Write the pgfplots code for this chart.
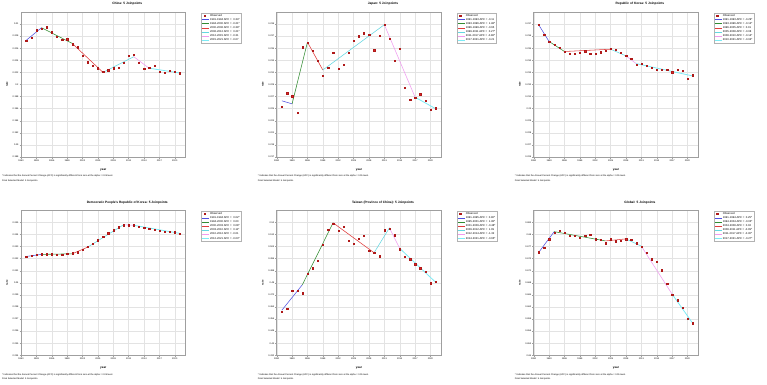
\documentclass[border=0pt]{standalone}
\usepackage{pgfplots}
\pgfplotsset{compat=1.18}
\usepackage{fontspec}
\setmainfont{Liberation Sans}

\definecolor{obsdark}{RGB}{175,25,25}
\definecolor{obsred}{RGB}{220,40,40}
\definecolor{segA}{RGB}{80,80,225}
\definecolor{segB}{RGB}{50,140,50}
\definecolor{segC}{RGB}{225,60,60}
\definecolor{segD}{RGB}{100,215,225}
\definecolor{segE}{RGB}{240,155,240}
\definecolor{segF}{RGB}{125,235,245}

\pgfplotsset{
  jp/.style={
    scale only axis, width=164.5pt, height=145pt,
    xmin=1990, xmax=2022.1, xtick={1990,1993,...,2020},
    grid=major, major grid style={draw=gray!22, line width=0.4pt},
    axis line style={draw=gray!75, line width=0.5pt},
    tick style={draw=gray!75, line width=0.4pt},
    major tick length=1.5pt, tick align=outside, xtick pos=bottom, ytick pos=left,
    scaled y ticks=false,
    /pgf/number format/assume math mode=true,
    ticklabel style={font=\fontsize{2.3}{2.6}\selectfont, inner sep=0.8pt},
    xticklabel style={/pgf/number format/1000 sep={}},
    yticklabel style={/pgf/number format/precision=5},
    xlabel={year},
    xlabel style={font=\bfseries\fontsize{3}{3.5}\selectfont,
      at={(axis description cs:0.5,0)}, anchor=center, yshift=-13pt},
    ylabel={rate},
    ylabel style={font=\bfseries\fontsize{2.6}{3}\selectfont,
      at={(axis description cs:0,0.5)}, anchor=center, yshift=14pt},
    title style={font=\bfseries\fontsize{3.2}{3.6}\selectfont,
      at={(axis description cs:0.646,1)}, anchor=center, yshift=2pt},
    legend style={at={(1.094,0.995)}, anchor=north west, draw=gray!60,
      line width=0.3pt, font=\fontsize{2.7}{3}\selectfont,
      nodes={inner sep=0.5pt, text height=2pt, text depth=0.6pt},
      row sep=0.5pt, inner sep=0.8pt},
    legend cell align=left,
    legend image code/.code={\draw[#1] (0pt,0pt) -- (7pt,0pt);},
  },
  obs/.style={only marks, mark=square*, mark size=0.65pt,
    mark options={draw=obsdark, fill=obsred, line width=0.1pt},
    legend image code/.code={\draw[draw=obsdark, fill=obsred, line width=0.1pt]
      (1.3pt,-0.65pt) rectangle (2.6pt,0.65pt);}},
  sA/.style={segA, line width=0.55pt},
  sB/.style={segB, line width=0.55pt},
  sC/.style={segC, line width=0.55pt},
  sD/.style={segD, line width=0.55pt},
  sE/.style={segE, line width=0.55pt},
  sF/.style={segF, line width=0.8pt},
}

\newcommand{\footnotesjp}[1]{%
  \node[anchor=north west, align=left, inner sep=0pt,
    font=\fontsize{2.3}{4.8}\selectfont]
    at ([xshift=-19pt,yshift=-18pt]#1.south west)
    {* Indicates that the Annual Percent Change (APC) is significantly different from zero at the alpha = 0.05 level.\\
     Final Selected Model: 5 Joinpoints.};}

\begin{document}
\begin{tikzpicture}
\useasboundingbox[fill=white] (0,0) rectangle (767pt,384pt);

% ---------------- China ----------------
\begin{axis}[jp, name=ax1, at={(21pt,372pt)}, anchor=north west,
  title={China: 5 Joinpoints},
  ymin=0.188, ymax=0.212,
  ytick={0.188,0.19,0.192,0.194,0.196,0.198,0.2,0.202,0.204,0.206,0.208,0.21}]
\addplot[obs] coordinates {(1991,0.2073)(1992,0.2078)(1993,0.2090)(1994,0.2093)(1995,0.2095)(1996,0.2087)(1997,0.2079)(1998,0.2074)(1999,0.2075)(2000,0.2067)(2001,0.2062)(2002,0.2048)(2003,0.2037)(2004,0.2031)(2005,0.2027)(2006,0.2022)(2007,0.2024)(2008,0.2027)(2009,0.2028)(2010,0.2036)(2011,0.2048)(2012,0.2049)(2013,0.2036)(2014,0.2026)(2015,0.2028)(2016,0.2031)(2017,0.2022)(2018,0.2020)(2019,0.2023)(2020,0.2022)(2021,0.2019)};
\addlegendentry{Observed}
\addplot[sA] coordinates {(1991,0.2073)(1994,0.2094)};
\addlegendentry{1991-1994 APC = \ 0.34*}
\addplot[sB] coordinates {(1994,0.2094)(2000,0.2068)};
\addlegendentry{1994-2000 APC = -0.21*}
\addplot[sC] coordinates {(2000,0.2068)(2006,0.2020)};
\addlegendentry{2000-2006 APC = -0.39*}
\addplot[sD] coordinates {(2006,0.2020)(2012,0.2046)};
\addlegendentry{2006-2012 APC = \ 0.21*}
\addplot[sE] coordinates {(2012,0.2046)(2015,0.2027)};
\addlegendentry{2012-2015 APC = -0.31}
\addplot[sF] coordinates {(2015,0.2027)(2021,0.2019)};
\addlegendentry{2015-2021 APC = -0.07}
\end{axis}
\footnotesjp{ax1}

% ---------------- Japan ----------------
\begin{axis}[jp, name=ax2, at={(276.7pt,372pt)}, anchor=north west,
  title={Japan: 5 Joinpoints},
  ymin=0.217, ymax=0.241,
  ytick={0.217,0.219,0.221,0.223,0.225,0.227,0.229,0.231,0.233,0.235,0.237,0.239}]
\addplot[obs] coordinates {(1991,0.2254)(1992,0.2276)(1993,0.2271)(1994,0.2243)(1995,0.2352)(1996,0.2360)(1997,0.2346)(1998,0.2330)(1999,0.2305)(2000,0.2318)(2001,0.2343)(2002,0.2316)(2003,0.2323)(2004,0.2343)(2005,0.2363)(2006,0.2370)(2007,0.2375)(2008,0.2373)(2009,0.2347)(2010,0.2371)(2011,0.2389)(2012,0.2366)(2013,0.2330)(2014,0.2350)(2015,0.2285)(2016,0.2265)(2017,0.2268)(2018,0.2274)(2019,0.2263)(2020,0.2248)(2021,0.2251)};
\addlegendentry{Observed}
\addplot[sA] coordinates {(1991,0.2263)(1993,0.2258)};
\addlegendentry{1991-1993 APC = -0.11}
\addplot[sB] coordinates {(1993,0.2258)(1996,0.2360)};
\addlegendentry{1993-1996 APC = \ 1.48*}
\addplot[sC] coordinates {(1996,0.2360)(1999,0.2314)};
\addlegendentry{1996-1999 APC = -0.65}
\addplot[sD] coordinates {(1999,0.2314)(2011,0.2389)};
\addlegendentry{1999-2011 APC = \ 0.27*}
\addplot[sE] coordinates {(2011,0.2389)(2017,0.2269)};
\addlegendentry{2011-2017 APC = -0.86*}
\addplot[sF] coordinates {(2017,0.2269)(2021,0.2250)};
\addlegendentry{2017-2021 APC = -0.21}
\end{axis}
\footnotesjp{ax2}

% ---------------- Republic of Korea ----------------
\begin{axis}[jp, name=ax3, at={(533.7pt,372pt)}, anchor=north west,
  title={Republic of Korea: 5 Joinpoints},
  ymin=0.226, ymax=0.238,
  ytick={0.226,0.227,0.228,0.229,0.23,0.231,0.232,0.233,0.234,0.235,0.236,0.237}]
\addplot[obs] coordinates {(1991,0.23698)(1992,0.23614)(1993,0.23553)(1994,0.23528)(1995,0.23504)(1996,0.23473)(1997,0.23456)(1998,0.23454)(1999,0.23465)(2000,0.23476)(2001,0.23456)(2002,0.23456)(2003,0.23468)(2004,0.23481)(2005,0.23495)(2006,0.23487)(2007,0.23465)(2008,0.23437)(2009,0.23412)(2010,0.23365)(2011,0.23376)(2012,0.23359)(2013,0.23340)(2014,0.23326)(2015,0.23323)(2016,0.23323)(2017,0.23304)(2018,0.23326)(2019,0.23315)(2020,0.23249)(2021,0.23279)};
\addlegendentry{Observed}
\addplot[sA] coordinates {(1991,0.23692)(1993,0.23556)};
\addlegendentry{1991-1993 APC = -0.29*}
\addplot[sB] coordinates {(1993,0.23556)(1996,0.23473)};
\addlegendentry{1993-1996 APC = -0.12*}
\addplot[sC] coordinates {(1996,0.23473)(2005,0.23492)};
\addlegendentry{1996-2005 APC = \ 0.01}
\addplot[sD] coordinates {(2005,0.23492)(2008,0.23437)};
\addlegendentry{2005-2008 APC = -0.08}
\addplot[sE] coordinates {(2008,0.23437)(2010,0.23373)};
\addlegendentry{2008-2010 APC = -0.14*}
\addplot[sF] coordinates {(2010,0.23373)(2021,0.23271)};
\addlegendentry{2010-2021 APC = -0.04*}
\end{axis}
\footnotesjp{ax3}

% ---------------- DPR Korea ----------------
\begin{axis}[jp, name=ax4, at={(21pt,173.7pt)}, anchor=north west,
  title={Democratic People's Republic of Korea: 5 Joinpoints},
  ymin=0.234, ymax=0.246,
  ytick={0.234,0.235,0.236,0.237,0.238,0.239,0.24,0.241,0.242,0.243,0.244,0.245}]
\addplot[obs] coordinates {(1991,0.24218)(1992,0.24223)(1993,0.24231)(1994,0.24237)(1995,0.24237)(1996,0.24237)(1997,0.24234)(1998,0.24234)(1999,0.24240)(2000,0.24245)(2001,0.24254)(2002,0.24273)(2003,0.24298)(2004,0.24323)(2005,0.24353)(2006,0.24384)(2007,0.24412)(2008,0.24437)(2009,0.24462)(2010,0.24478)(2011,0.24478)(2012,0.24478)(2013,0.24464)(2014,0.24456)(2015,0.24448)(2016,0.24439)(2017,0.24431)(2018,0.24425)(2019,0.24423)(2020,0.24420)(2021,0.24409)};
\addlegendentry{Observed}
\addplot[sA] coordinates {(1991,0.24218)(1994,0.24235)};
\addlegendentry{1991-1994 APC = \ 0.02*}
\addplot[sB] coordinates {(1994,0.24235)(2000,0.24240)};
\addlegendentry{1994-2000 APC = \ 0.00}
\addplot[sC] coordinates {(2000,0.24240)(2003,0.24295)};
\addlegendentry{2000-2003 APC = \ 0.08*}
\addplot[sD] coordinates {(2003,0.24295)(2010,0.24480)};
\addlegendentry{2003-2010 APC = \ 0.11*}
\addplot[sE] coordinates {(2010,0.24480)(2012,0.24476)};
\addlegendentry{2010-2012 APC = -0.01}
\addplot[sF] coordinates {(2012,0.24476)(2021,0.24409)};
\addlegendentry{2012-2021 APC = -0.03*}
\end{axis}
\footnotesjp{ax4}

% ---------------- Taiwan ----------------
\begin{axis}[jp, name=ax5, at={(276.7pt,173.7pt)}, anchor=north west,
  title={Taiwan (Province of China): 5 Joinpoints},
  ymin=0.432, ymax=0.528,
  ytick={0.432,0.44,0.448,0.456,0.464,0.472,0.48,0.488,0.496,0.504,0.512,0.52}]
\addplot[obs] coordinates {(1991,0.4611)(1992,0.4629)(1993,0.4750)(1994,0.4747)(1995,0.4732)(1996,0.4863)(1997,0.4898)(1998,0.4947)(1999,0.5054)(2000,0.5153)(2001,0.5192)(2002,0.5146)(2003,0.5173)(2004,0.5078)(2005,0.5061)(2006,0.5094)(2007,0.5111)(2008,0.5013)(2009,0.4998)(2010,0.4978)(2011,0.5150)(2012,0.5159)(2013,0.5116)(2014,0.5023)(2015,0.4973)(2016,0.4958)(2017,0.4925)(2018,0.4898)(2019,0.4874)(2020,0.4798)(2021,0.4809)};
\addlegendentry{Observed}
\addplot[sA] coordinates {(1991,0.4618)(1995,0.4787)};
\addlegendentry{1991-1995 APC = \ 0.90*}
\addplot[sB] coordinates {(1995,0.4787)(2001,0.5197)};
\addlegendentry{1995-2001 APC = \ 1.38*}
\addplot[sC] coordinates {(2001,0.5197)(2009,0.4999)};
\addlegendentry{2001-2009 APC = -0.48*}
\addplot[sD] coordinates {(2009,0.4999)(2012,0.5164)};
\addlegendentry{2009-2012 APC = \ 1.09}
\addplot[sE] coordinates {(2012,0.5164)(2014,0.5028)};
\addlegendentry{2012-2014 APC = -1.32}
\addplot[sF] coordinates {(2014,0.5028)(2021,0.4804)};
\addlegendentry{2014-2021 APC = -0.65*}
\end{axis}
\footnotesjp{ax5}

% ---------------- Global ----------------
\begin{axis}[jp, name=ax6, at={(533.7pt,173.7pt)}, anchor=north west,
  title={Global: 5 Joinpoints},
  ymin=0.65, ymax=0.686,
  ytick={0.65,0.653,0.656,0.659,0.662,0.665,0.668,0.671,0.674,0.677,0.68,0.683}]
\addplot[obs] coordinates {(1991,0.6756)(1992,0.6768)(1993,0.6789)(1994,0.6805)(1995,0.6809)(1996,0.6804)(1997,0.6798)(1998,0.6797)(1999,0.6792)(2000,0.6798)(2001,0.6799)(2002,0.6789)(2003,0.6788)(2004,0.6779)(2005,0.6789)(2006,0.6784)(2007,0.6785)(2008,0.6789)(2009,0.6788)(2010,0.6779)(2011,0.6770)(2012,0.6755)(2013,0.6739)(2014,0.6733)(2015,0.6712)(2016,0.6679)(2017,0.6650)(2018,0.6637)(2019,0.6619)(2020,0.6592)(2021,0.6580)};
\addlegendentry{Observed}
\addplot[sA] coordinates {(1991,0.6756)(1994,0.6807)};
\addlegendentry{1991-1994 APC = \ 0.25*}
\addplot[sB] coordinates {(1994,0.6807)(2004,0.6784)};
\addlegendentry{1994-2004 APC = -0.03*}
\addplot[sC] coordinates {(2004,0.6784)(2008,0.6789)};
\addlegendentry{2004-2008 APC = \ 0.02}
\addplot[sD] coordinates {(2008,0.6789)(2011,0.6771)};
\addlegendentry{2008-2011 APC = -0.09*}
\addplot[sE] coordinates {(2011,0.6771)(2017,0.6652)};
\addlegendentry{2011-2017 APC = -0.30*}
\addplot[sF] coordinates {(2017,0.6652)(2021,0.6580)};
\addlegendentry{2017-2021 APC = -0.27*}
\end{axis}
\footnotesjp{ax6}
\end{tikzpicture}
\end{document}
